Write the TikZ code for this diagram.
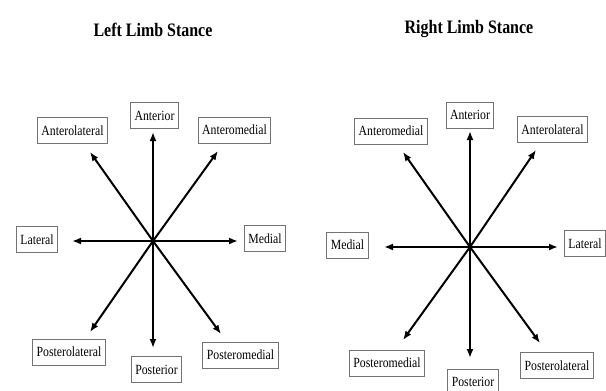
\documentclass[tikz,border=0pt]{standalone}
\usepackage{fontspec}
\setmainfont{Liberation Serif}[FakeStretch=0.84]
\usetikzlibrary{arrows.meta}
\tikzset{
  dirbox/.style={draw=black!55,line width=.9pt,fill=white,inner xsep=4pt,inner ysep=0pt,
    minimum height=26pt,font=\fontsize{14}{16}\selectfont},
  stancetitle/.style={font=\bfseries\fontsize{19}{22}\selectfont},
  axis/.style={->,line width=2pt}
}
\begin{document}
\begin{tikzpicture}[x=1pt,y=-1pt,>={Latex[length=9pt,width=7pt]}]
\useasboundingbox (0,0) rectangle (606,391);
% left limb
\begin{scope}
\node[stancetitle] (Ltitle) at (153,30) {Left Limb Stance};
\coordinate (L0) at (153,241);
\coordinate (Lant) at (153,132);
\coordinate (Lal) at (90,152);
\coordinate (Lam) at (218,151);
\coordinate (Llat) at (72,241);
\coordinate (Lmed) at (238,241);
\coordinate (Lpl) at (90,332);
\coordinate (Lpost) at (153,348);
\coordinate (Lpm) at (221,334);
\foreach \d in {ant,al,am,lat,med,pl,post,pm}
  \draw[axis] (L0)--(L\d);
\fill (L0) circle(2.5);
\node[dirbox] (Lantbox) at (154.5,115.5) {Anterior};
\node[dirbox] (Lalbox) at (72.5,130.5) {Anterolateral};
\node[dirbox] (Lambox) at (234.5,130) {Anteromedial};
\node[dirbox] (Llatbox) at (37,239.5) {Lateral};
\node[dirbox] (Lmedbox) at (265,238.5) {Medial};
\node[dirbox] (Lplbox) at (69,352) {Posterolateral};
\node[dirbox] (Lpostbox) at (156.5,369.5) {Posterior};
\node[dirbox] (Lpmbox) at (240.5,355) {Posteromedial};
\end{scope}
% right limb
\begin{scope}
\node[stancetitle] (Rtitle) at (469,29) {Right Limb Stance};
\coordinate (R0) at (470,247);
\coordinate (Rant) at (470,131);
\coordinate (Ram) at (403,152);
\coordinate (Ral) at (536,150);
\coordinate (Rmed) at (384,247);
\coordinate (Rlat) at (558,247);
\coordinate (Rpm) at (403,340);
\coordinate (Rpost) at (470,358);
\coordinate (Rpl) at (540,343);
\foreach \d in {ant,am,al,med,lat,pm,post,pl}
  \draw[axis] (R0)--(R\d);
\fill (R0) circle(2.5);
\node[dirbox] (Rantbox) at (470,115) {Anterior};
\node[dirbox] (Rambox) at (391,131) {Anteromedial};
\node[dirbox] (Ralbox) at (552.5,129.5) {Anterolateral};
\node[dirbox] (Rmedbox) at (347.5,245) {Medial};
\node[dirbox] (Rlatbox) at (585,243.5) {Lateral};
\node[dirbox] (Rpmbox) at (387,363) {Posteromedial};
\node[dirbox] (Rpostbox) at (473,382) {Posterior};
\node[dirbox] (Rplbox) at (557,365.5) {Posterolateral};
\end{scope}
\end{tikzpicture}
\end{document}
